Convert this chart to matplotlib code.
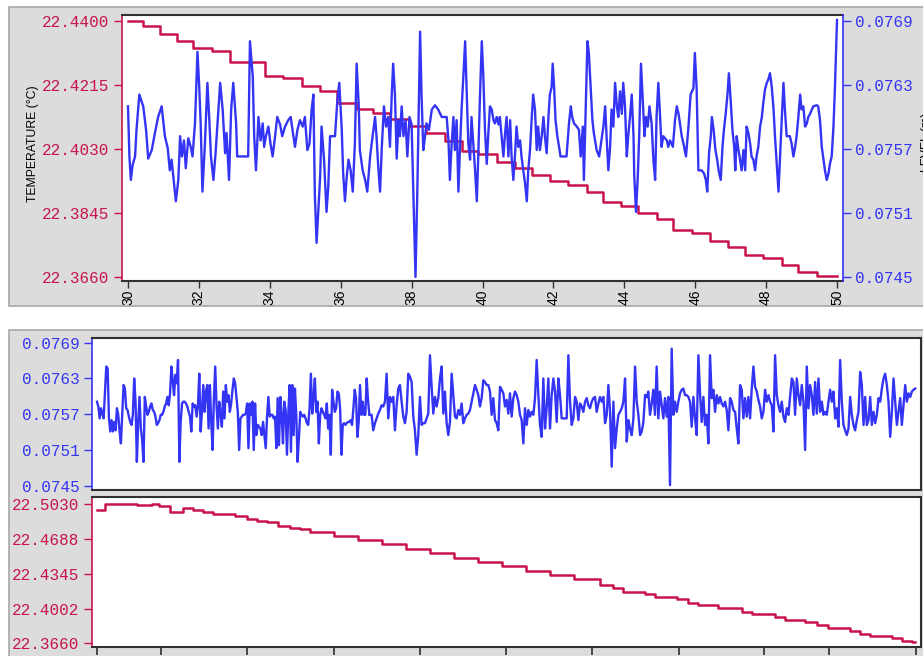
import numpy as np
import matplotlib.pyplot as plt
from matplotlib.patches import Rectangle

RED = '#c8144a'
BLUE = '#3434f4'
DARK = '#303030'
GRAY = '#dcdcdc'

# ---- top chart: level (m, stored in mm) and temperature, hours 30..50
top_level = [
    (30.00, 76.10), (30.04, 75.63), (30.08, 75.41), (30.13, 75.55), (30.20, 75.63),
    (30.24, 75.88), (30.32, 76.21), (30.43, 76.10), (30.51, 75.88), (30.57, 75.61),
    (30.67, 75.69), (30.76, 75.85), (30.85, 76.00), (30.95, 76.10), (31.04, 75.82),
    (31.12, 75.71), (31.18, 75.50), (31.23, 75.60), (31.28, 75.44), (31.35, 75.21),
    (31.42, 75.41), (31.47, 75.82), (31.52, 75.63), (31.58, 75.78), (31.63, 75.52),
    (31.70, 75.80), (31.77, 75.72), (31.82, 75.63), (31.89, 75.94), (31.96, 76.61),
    (32.01, 76.28), (32.05, 75.94), (32.10, 75.30), (32.17, 75.75), (32.24, 76.32),
    (32.29, 76.00), (32.34, 75.63), (32.41, 75.41), (32.47, 75.66), (32.55, 76.07),
    (32.60, 76.32), (32.67, 76.07), (32.74, 75.66), (32.78, 75.85), (32.85, 75.41),
    (32.91, 76.07), (32.97, 76.32), (33.05, 75.94), (33.08, 75.63), (33.39, 75.63),
    (33.44, 76.71), (33.52, 76.38), (33.56, 75.82), (33.61, 75.50), (33.68, 76.00),
    (33.74, 75.78), (33.80, 75.94), (33.84, 75.72), (33.89, 75.82), (33.96, 75.91),
    (34.02, 75.75), (34.08, 75.63), (34.15, 75.82), (34.21, 76.00), (34.29, 75.93),
    (34.35, 75.82), (34.43, 75.91), (34.52, 75.97), (34.59, 76.00), (34.64, 75.88),
    (34.71, 75.72), (34.78, 75.88), (34.85, 75.97), (34.93, 75.91), (34.99, 76.00),
    (35.06, 75.69), (35.12, 75.75), (35.18, 76.07), (35.23, 76.21), (35.27, 75.28),
    (35.32, 74.82), (35.37, 75.13), (35.42, 75.44), (35.46, 75.91), (35.53, 75.60),
    (35.60, 75.11), (35.65, 75.35), (35.70, 75.82), (35.84, 75.82), (35.90, 76.13),
    (35.96, 76.32), (36.03, 75.88), (36.07, 75.47), (36.12, 75.21), (36.17, 75.44),
    (36.22, 75.60), (36.28, 75.50), (36.34, 75.30), (36.40, 75.75), (36.45, 76.50),
    (36.51, 76.10), (36.54, 75.69), (36.62, 75.50), (36.69, 75.41), (36.75, 75.30),
    (36.83, 75.63), (36.90, 75.82), (36.97, 76.00), (37.01, 75.82), (37.06, 75.53),
    (37.11, 75.30), (37.16, 75.72), (37.22, 76.10), (37.28, 75.91), (37.34, 76.00),
    (37.39, 75.72), (37.44, 76.21), (37.48, 76.50), (37.53, 76.21), (37.58, 75.61),
    (37.63, 75.97), (37.67, 75.82), (37.72, 76.10), (37.77, 75.82), (37.83, 75.97),
    (37.88, 75.63), (37.94, 76.00), (38.00, 75.93), (38.05, 75.28), (38.08, 74.88),
    (38.11, 74.50), (38.16, 75.28), (38.20, 76.07), (38.24, 76.80), (38.28, 76.21),
    (38.33, 75.69), (38.38, 75.82), (38.42, 75.94), (38.49, 75.88), (38.57, 76.07),
    (38.66, 76.11), (38.75, 76.07), (38.85, 76.00), (38.99, 76.00), (39.04, 75.78),
    (39.08, 75.41), (39.13, 75.75), (39.18, 76.00), (39.22, 75.69), (39.27, 75.97),
    (39.32, 75.30), (39.37, 75.75), (39.41, 76.07), (39.46, 76.38), (39.51, 76.71),
    (39.55, 76.28), (39.60, 75.75), (39.65, 75.60), (39.69, 76.00), (39.74, 75.75),
    (39.79, 75.50), (39.84, 75.21), (39.88, 75.63), (39.93, 76.21), (39.98, 76.71),
    (40.02, 76.41), (40.07, 75.88), (40.12, 75.56), (40.16, 75.82), (40.21, 76.10),
    (40.26, 76.07), (40.31, 75.97), (40.35, 75.94), (40.40, 76.00), (40.45, 75.93),
    (40.49, 76.00), (40.54, 75.82), (40.59, 75.63), (40.63, 75.82), (40.68, 76.00),
    (40.73, 75.63), (40.78, 75.97), (40.82, 75.63), (40.87, 75.41), (40.92, 75.66),
    (40.96, 75.91), (41.01, 75.72), (41.06, 75.78), (41.10, 75.63), (41.15, 75.50),
    (41.20, 75.38), (41.25, 75.21), (41.29, 75.50), (41.34, 75.69), (41.39, 76.00),
    (41.43, 76.21), (41.48, 76.07), (41.53, 75.69), (41.57, 75.91), (41.62, 75.69),
    (41.67, 75.82), (41.72, 76.00), (41.76, 75.82), (41.81, 75.66), (41.86, 76.00),
    (41.90, 76.21), (41.95, 76.28), (41.98, 76.50), (42.02, 76.28), (42.06, 75.97),
    (42.11, 75.82), (42.16, 75.72), (42.20, 75.63), (42.37, 75.63), (42.44, 75.94),
    (42.49, 76.10), (42.53, 76.00), (42.58, 75.94), (42.66, 75.91), (42.72, 75.88),
    (42.77, 75.63), (42.83, 75.91), (42.86, 75.41), (42.91, 76.07), (42.96, 76.71),
    (43.00, 76.60), (43.05, 76.28), (43.10, 75.97), (43.14, 75.85), (43.22, 75.69),
    (43.29, 75.63), (43.41, 75.91), (43.46, 76.10), (43.50, 75.82), (43.55, 75.50),
    (43.60, 75.72), (43.64, 76.07), (43.69, 75.91), (43.74, 76.32), (43.79, 76.10),
    (43.83, 76.00), (43.88, 76.24), (43.93, 76.03), (43.97, 76.32), (44.02, 76.10),
    (44.07, 75.63), (44.11, 75.82), (44.16, 76.00), (44.21, 76.21), (44.26, 75.82),
    (44.28, 75.46), (44.33, 75.11), (44.38, 75.44), (44.42, 75.82), (44.47, 76.50),
    (44.52, 76.16), (44.57, 75.82), (44.61, 76.00), (44.66, 75.91), (44.71, 76.10),
    (44.77, 75.94), (44.82, 75.60), (44.87, 75.41), (44.91, 76.00), (44.96, 76.32),
    (45.01, 76.00), (45.05, 75.72), (45.10, 75.82), (45.20, 75.78), (45.24, 75.72),
    (45.29, 75.78), (45.37, 75.72), (45.43, 75.97), (45.48, 76.10), (45.53, 76.03),
    (45.57, 75.94), (45.62, 75.82), (45.67, 75.75), (45.74, 75.63), (45.81, 75.91),
    (45.87, 76.21), (45.95, 76.27), (45.99, 76.60), (46.04, 76.27), (46.09, 75.50),
    (46.18, 75.50), (46.25, 75.47), (46.30, 75.41), (46.34, 75.30), (46.39, 75.66),
    (46.44, 75.82), (46.47, 76.00), (46.52, 75.88), (46.57, 75.69), (46.62, 75.60),
    (46.66, 75.50), (46.72, 75.41), (46.77, 75.72), (46.81, 75.88), (46.86, 76.03),
    (46.91, 76.21), (46.95, 76.41), (47.00, 76.16), (47.05, 75.88), (47.10, 75.72),
    (47.13, 75.50), (47.17, 75.82), (47.22, 75.69), (47.26, 75.61), (47.31, 75.50),
    (47.36, 75.69), (47.41, 75.50), (47.45, 75.91), (47.50, 75.85), (47.55, 75.75),
    (47.59, 75.63), (47.64, 75.60), (47.69, 75.50), (47.73, 75.63), (47.78, 75.72),
    (47.83, 75.91), (47.88, 76.00), (47.92, 76.13), (47.97, 76.26), (48.02, 76.32),
    (48.06, 76.35), (48.11, 76.41), (48.16, 76.28), (48.21, 76.07), (48.25, 75.82),
    (48.30, 75.56), (48.35, 75.30), (48.39, 75.60), (48.44, 75.97), (48.49, 76.32),
    (48.53, 76.07), (48.58, 75.82), (48.67, 75.82), (48.72, 75.75), (48.77, 75.63),
    (48.82, 75.72), (48.86, 75.82), (48.91, 76.00), (48.96, 76.21), (49.00, 76.07),
    (49.05, 76.10), (49.10, 75.91), (49.15, 75.94), (49.19, 76.00), (49.24, 76.03),
    (49.33, 76.10), (49.43, 76.11), (49.47, 76.10), (49.52, 75.97), (49.57, 75.72),
    (49.62, 75.60), (49.66, 75.50), (49.71, 75.41), (49.76, 75.47), (49.80, 75.56),
    (49.85, 75.63), (49.90, 75.91), (49.94, 76.26), (49.97, 76.58), (50.00, 76.91),
]

# temperature steps (hour, degC), held until the next entry
top_temp = [
    (30.00, 22.4400), (30.43, 22.4386), (30.90, 22.4362), (31.37, 22.4343),
    (31.84, 22.4323), (32.36, 22.4314), (32.88, 22.4281), (33.86, 22.4242),
    (34.38, 22.4234), (34.90, 22.4212), (35.42, 22.4196), (35.89, 22.4164),
    (36.45, 22.4145), (36.92, 22.4133), (37.39, 22.4116), (37.94, 22.4095),
    (38.42, 22.4075), (38.94, 22.4054), (39.41, 22.4024), (39.88, 22.4015),
    (40.40, 22.3991), (40.92, 22.3974), (41.39, 22.3955), (41.90, 22.3936),
    (42.42, 22.3926), (42.94, 22.3906), (43.41, 22.3875), (43.90, 22.3866),
    (44.40, 22.3846), (44.91, 22.3827), (45.38, 22.3794), (45.90, 22.3786),
    (46.42, 22.3765), (46.93, 22.3746), (47.41, 22.3724), (47.92, 22.3714),
    (48.44, 22.3695), (48.91, 22.3673), (49.43, 22.3663), (50.00, 22.3663),
]

top_temp_ticks = [22.3660, 22.3845, 22.4030, 22.4215, 22.4400]
top_level_ticks = [0.0745, 0.0751, 0.0757, 0.0763, 0.0769]
top_hour_ticks = [30, 32, 34, 36, 38, 40, 42, 44, 46, 48, 50]

# ---- bottom chart: whole record, hours since start, level in mm
# read at a fixed spacing in three stretches
bottom_level_a = [  # 0.00 .. 13.63 h
    75.91, 75.83, 75.63, 75.80, 75.71, 75.63, 76.05, 76.50, 76.47, 75.63,
    75.41, 75.60, 75.41, 75.57, 75.43, 75.80, 75.69, 75.41, 75.21, 75.69,
    76.19, 76.13, 75.80, 75.77, 75.66, 75.57, 75.52, 75.69, 76.30, 75.91,
    74.90, 75.57, 75.99, 75.46, 75.27, 74.90, 75.99, 75.83, 75.69, 75.74,
    75.83, 75.88, 75.77, 75.74, 75.66, 75.52, 75.55, 75.60, 75.69, 75.69,
    75.74, 75.83, 75.88, 75.99, 75.85, 76.05, 76.50, 76.27, 76.02, 76.36,
    76.22, 76.61, 74.90, 75.57, 75.88, 75.91, 75.91, 75.88, 75.83, 75.74,
    75.66, 75.41, 75.88, 75.83, 75.85, 75.66, 75.85, 76.38, 75.41, 75.74,
    76.19, 75.74, 76.08, 76.19, 75.46, 76.19, 75.57, 75.10, 75.97, 76.50,
    75.83, 75.46, 75.91, 75.71, 75.49, 76.08, 75.63, 76.19, 75.91, 76.02,
    75.74, 75.88, 76.11, 76.30, 76.22, 75.97, 75.74, 75.10, 75.63, 75.66,
    75.69, 75.69, 75.71, 75.88, 75.13, 75.88, 75.69, 75.91, 75.10, 75.88,
    75.35, 75.52, 75.49, 75.46, 75.35, 75.57, 75.35, 75.13, 75.66, 75.99,
    75.66, 75.69, 75.69, 75.63, 75.66, 75.13, 75.97, 75.18, 75.99, 75.69,
    75.21, 75.91, 75.77, 75.02, 75.71, 76.19, 75.07, 76.19, 75.35, 76.13,
    75.69, 74.90, 75.30, 75.74, 75.69, 75.66, 75.69, 75.63, 75.55, 75.52,
    75.80, 76.38, 75.71, 75.99, 76.30, 75.74, 75.91, 75.21, 75.69, 75.80,
    75.74, 75.69, 75.63, 75.88, 75.46, 75.69, 75.02, 76.11, 75.91, 75.74,
    75.80, 76.08, 76.05, 75.80, 75.02, 75.52, 75.55, 75.52, 75.55, 75.57,
    75.57, 75.60, 75.52, 75.80, 76.11, 75.97, 75.32, 75.57, 76.19, 75.69,
    75.91, 75.69, 75.69, 76.30, 75.94, 75.69,
]
bottom_level_b = [  # 13.66 .. 27.43 h
    75.69, 75.69, 75.43, 75.55, 75.63, 75.71, 75.77, 75.85, 75.83, 75.91,
    76.38, 75.63, 75.99, 75.91, 75.99, 75.43, 75.85, 76.13, 76.19, 75.91,
    75.66, 75.55, 75.74, 76.38, 76.33, 76.24, 75.66, 75.43, 75.02, 75.35,
    75.99, 75.52, 75.55, 75.55, 75.63, 75.71, 76.69, 76.16, 75.71, 75.99,
    75.83, 75.97, 76.30, 76.50, 75.71, 76.08, 75.55, 75.35, 75.57, 76.38,
    76.02, 75.66, 75.63, 75.77, 75.69, 75.88, 75.55, 75.63, 75.69, 75.71,
    75.77, 75.91, 76.05, 76.19, 76.11, 76.02, 75.83, 75.97, 76.27, 76.24,
    76.19, 76.19, 76.08, 75.69, 75.97, 75.60, 75.55, 75.43, 76.16, 76.11,
    76.05, 75.83, 75.94, 75.71, 76.05, 75.66, 75.97, 76.08, 76.02, 75.91,
    75.69, 75.60, 75.21, 75.80, 75.52, 75.77, 75.66, 75.74, 75.69, 75.97,
    76.61, 76.02, 75.52, 75.32, 76.30, 75.46, 75.80, 76.30, 75.46, 76.02,
    76.30, 76.08, 75.57, 76.30, 76.02, 75.63, 75.63, 75.63, 75.63, 76.69,
    75.91, 75.52, 75.63, 75.99, 75.91, 75.60, 75.88, 75.83, 75.74, 75.91,
    75.97, 75.85, 75.80, 75.91, 75.97, 75.99, 75.74, 75.88, 75.99, 75.91,
    75.99, 75.55, 75.69, 76.19, 75.74, 74.82, 75.91, 75.13, 75.46, 75.69,
    75.74, 75.80, 75.91, 76.30, 75.24, 75.60, 75.46, 75.35, 75.63, 76.50,
    75.91, 75.69, 75.35, 75.41, 75.57, 76.02,
]
bottom_level_c = [  # 27.51 .. 40.95 h
    75.99, 76.08, 75.69, 75.88, 76.11, 75.69, 76.50, 75.63, 76.08, 75.85,
    75.63, 75.97, 75.66, 75.99, 74.51, 76.80, 75.69, 75.91, 75.74, 75.91,
    76.05, 76.11, 76.13, 76.02, 76.02, 75.99, 75.91, 75.49, 75.99, 75.63,
    75.35, 76.69, 76.05, 75.57, 75.99, 75.52, 75.69, 75.21, 76.69, 75.97,
    76.11, 75.74, 76.02, 75.88, 75.99, 75.88, 75.83, 75.91, 75.77, 75.43,
    75.97, 75.91, 75.77, 75.74, 75.46, 75.21, 76.19, 76.11, 75.63, 75.97,
    75.66, 75.99, 75.63, 76.13, 76.50, 76.16, 76.08, 75.94, 75.83, 75.63,
    75.74, 76.11, 75.91, 76.02, 75.91, 75.85, 75.41, 76.69, 76.02, 75.85,
    75.74, 75.91, 75.66, 75.57, 75.80, 75.69, 75.99, 76.30, 76.24, 75.69,
    76.30, 76.02, 75.85, 76.19, 75.91, 75.10, 76.50, 75.80, 76.19, 76.02,
    75.69, 76.24, 75.71, 76.30, 75.74, 75.91, 75.69, 75.74, 75.69, 75.91,
    76.11, 75.91, 76.08, 75.63, 75.80, 75.49, 76.61, 75.91, 75.52, 75.43,
    75.35, 75.46, 75.99, 75.69, 75.52, 75.43, 75.60, 75.74, 76.41, 76.19,
    75.52, 75.99, 75.52, 75.60, 75.99, 75.52, 75.74, 75.55, 75.69, 75.97,
    75.91, 76.13, 76.30, 76.38, 76.19, 75.91, 75.32, 75.74, 76.30, 75.91,
    75.52, 75.74, 75.97, 75.52, 75.85, 76.19, 75.91, 76.05, 75.99, 76.08,
    76.11, 76.13,
]
bottom_spans = [(0.00, 13.63), (13.66, 27.43), (27.51, 40.95)]

bottom_temp = [
    (0.00, 22.4971), (0.40, 22.5032), (1.98, 22.5022), (2.74, 22.5032),
    (3.09, 22.5013), (3.65, 22.4954), (4.32, 22.4994), (4.82, 22.4971),
    (5.32, 22.4954), (5.82, 22.4932), (6.91, 22.4910), (7.49, 22.4879),
    (7.99, 22.4863), (8.49, 22.4850), (9.08, 22.4814), (9.66, 22.4797),
    (10.16, 22.4780), (10.66, 22.4751), (11.86, 22.4718), (13.06, 22.4675),
    (14.26, 22.4632), (15.47, 22.4590), (16.67, 22.4547), (17.87, 22.4504),
    (19.07, 22.4461), (20.27, 22.4418), (21.47, 22.4375), (22.67, 22.4332),
    (23.87, 22.4290), (25.18, 22.4233), (25.84, 22.4201), (26.34, 22.4167),
    (27.43, 22.4145), (27.93, 22.4118), (29.01, 22.4093), (29.59, 22.4059),
    (30.09, 22.4037), (31.10, 22.4004), (32.27, 22.3971), (32.77, 22.3945),
    (33.94, 22.3922), (34.43, 22.3889), (35.44, 22.3867), (36.02, 22.3840),
    (36.60, 22.3808), (37.69, 22.3781), (38.19, 22.3751), (38.69, 22.3735),
    (39.77, 22.3709), (40.28, 22.3683), (40.78, 22.3670), (40.95, 22.3670),
]

bottom_level_ticks = [0.0745, 0.0751, 0.0757, 0.0763, 0.0769]
bottom_temp_ticks = [22.3660, 22.4002, 22.4345, 22.4688, 22.5030]
bottom_hour_ticks = [0.0, 3.2, 7.51, 11.86, 16.17, 20.47, 24.77, 29.13, 33.38, 36.64, 40.99]

W, H = 923, 656


def box(l, t, r, b):
    return [l / W, 1 - b / H, (r - l) / W, (b - t) / H]


def panel(fig, l, t, r, b):
    fig.add_artist(Rectangle((l / W, 1 - b / H), (r - l) / W, (b - t) / H,
                             transform=fig.transFigure, facecolor=GRAY,
                             edgecolor='#a8a8a8', linewidth=1.2, zorder=-5))


def style_axis(ax, side, color, ticks, fmt):
    ax.set_yticks(ticks, labels=[fmt % v for v in ticks],
                  fontfamily='Liberation Mono', fontsize=11.5)
    ax.tick_params(axis='y', which='both', left=(side == 'left'),
                   right=(side == 'right'), labelleft=(side == 'left'),
                   labelright=(side == 'right'), color=color, labelcolor=color,
                   length=6, width=1, pad=3)
    ax.spines[side].set_color(color)
    ax.spines[side].set_linewidth(1.2)


plt.rcParams['font.family'] = ['Liberation Sans', 'DejaVu Sans']
fig = plt.figure(figsize=(W / 100, H / 100), dpi=100)
fig.patch.set_facecolor('white')

panel(fig, 9, 7, 924, 306)
panel(fig, 9, 330, 924, 657)

# ---------- top chart
ax = fig.add_axes(box(122, 15, 843, 281))
tt, tc = np.array(top_temp).T
ax.plot(tt, tc, drawstyle='steps-post', color=RED, lw=1.8)
ax.set_xlim(29.831, 50.169)
ax.set_ylim(22.3648, 22.4417)
style_axis(ax, 'left', RED, top_temp_ticks, '%.4f')
ax.set_xticks(top_hour_ticks, labels=[str(h) for h in top_hour_ticks],
              rotation=90, fontsize=10)
ax.tick_params(axis='x', length=5, width=1, pad=1, color=DARK)
ax.spines['right'].set_visible(False)
for s in ('top', 'bottom'):
    ax.spines[s].set_color(DARK)
    ax.spines[s].set_linewidth(1.5)

axl = ax.twinx()
lt, lv = np.array(top_level).T
axl.plot(lt, lv / 1000, color=BLUE, lw=1.7)
axl.set_ylim(0.0744625, 0.076956)
style_axis(axl, 'right', BLUE, top_level_ticks, '%.4f')
for s in ('left', 'top', 'bottom'):
    axl.spines[s].set_visible(False)

fig.text(33 / W, 1 - 144 / H, 'TEMPERATURE (°C)', rotation=90,
         ha='center', va='center', fontsize=8.8, color='black')
fig.text(927 / W, 1 - 142 / H, 'LEVEL (m)', rotation=90,
         ha='center', va='center', fontsize=8.8, color='black')

# ---------- bottom: level
axb = fig.add_axes(box(92, 338, 921, 490))
for seg, (t0, t1) in zip([bottom_level_a, bottom_level_b, bottom_level_c], bottom_spans):
    hours = np.linspace(t0, t1, len(seg))
    axb.plot(hours, np.array(seg) / 1000, color=BLUE, lw=1.7)
axb.set_xlim(-0.25, 41.24)
axb.set_ylim(0.074428, 0.076979)
style_axis(axb, 'left', BLUE, bottom_level_ticks, '%.4f')
axb.tick_params(axis='x', bottom=False, labelbottom=False)
for s in ('top', 'right', 'bottom'):
    axb.spines[s].set_color(DARK)
    axb.spines[s].set_linewidth(1.5)

# ---------- bottom: temperature
axr = fig.add_axes(box(92, 497, 921, 647))
bt, bc = np.array(bottom_temp).T
axr.plot(bt, bc, drawstyle='steps-post', color=RED, lw=1.8)
axr.set_xlim(-0.25, 41.24)
axr.set_ylim(22.3624, 22.5099)
style_axis(axr, 'left', RED, bottom_temp_ticks, '%.4f')
axr.set_xticks(bottom_hour_ticks)
axr.tick_params(axis='x', length=6, width=1.2, color=DARK, labelbottom=False)
for s in ('top', 'right', 'bottom'):
    axr.spines[s].set_color(DARK)
    axr.spines[s].set_linewidth(1.5)

fig.savefig('out.png', dpi=100)
